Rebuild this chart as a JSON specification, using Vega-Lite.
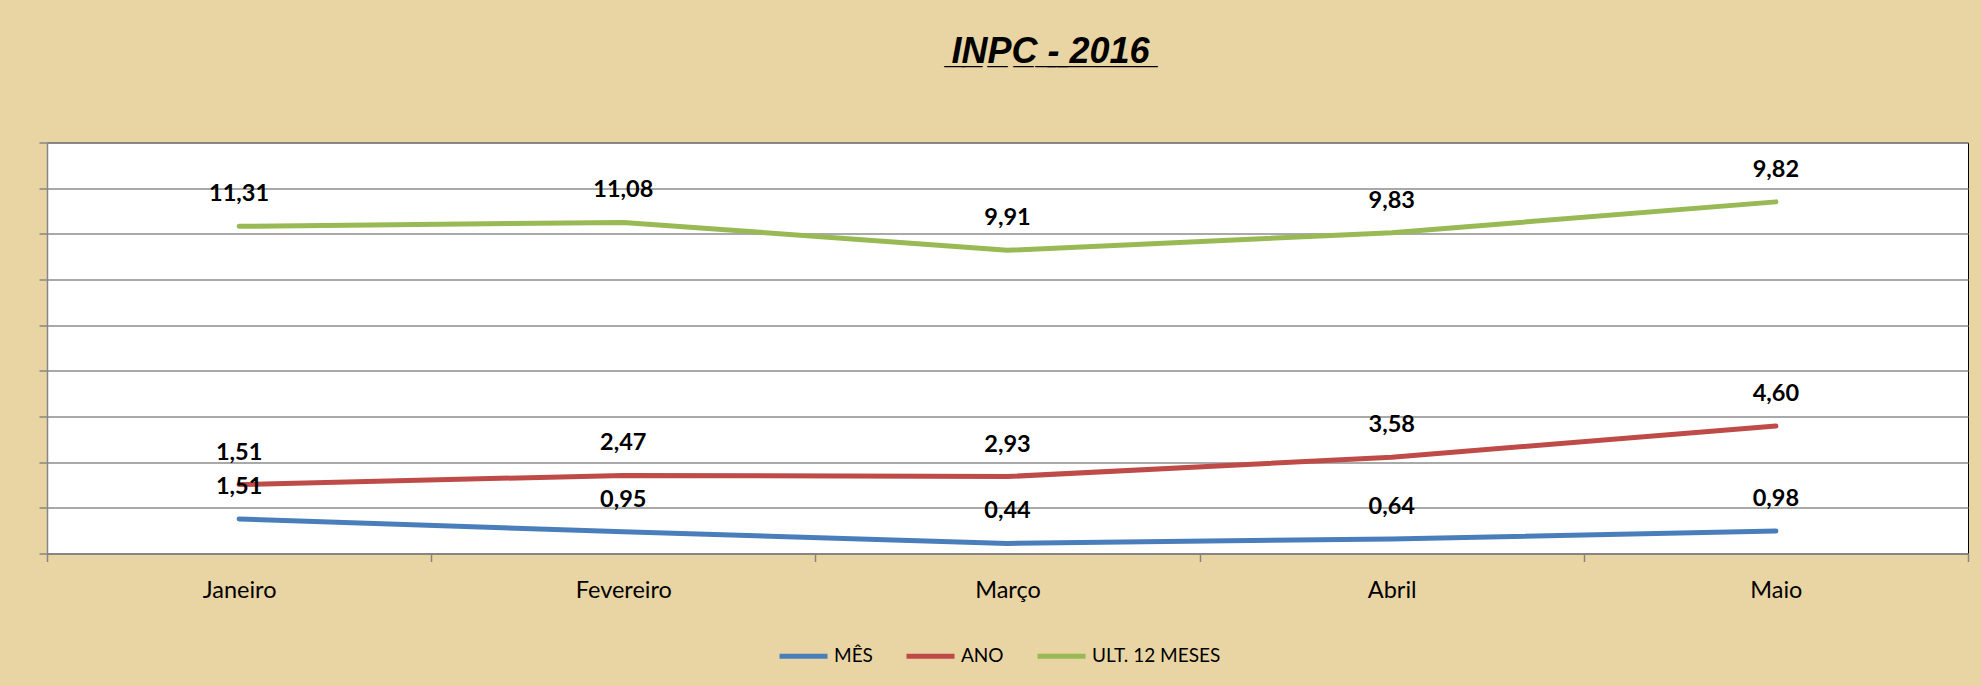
{
  "$schema": "https://vega.github.io/schema/vega-lite/v6.json",
  "width": 1921,
  "height": 411,
  "autosize": "none",
  "padding": {"left": 47, "top": 142.5, "right": 13, "bottom": 132.5},
  "background": "#E9D5A3",
  "title": {
    "text": "I̲N̲P̲C̲ ̲-̲ ̲2̲0̲1̲6̲",
    "anchor": "middle",
    "frame": "group",
    "font": "Liberation Sans",
    "fontSize": 36,
    "fontWeight": "bold",
    "fontStyle": "italic",
    "color": "#000000",
    "baseline": "alphabetic",
    "offset": 43,
    "dx": 43
  },
  "config": {
    "view": {"stroke": "#000000", "strokeWidth": 1, "fill": "#FFFFFF"},
    "locale": {"number": {"decimal": ",", "thousands": ".", "grouping": [3], "currency": ["R$ ", ""]}}
  },
  "data": {
    "values": [
      {"mes": "Janeiro", "serie": "MÊS", "ordem": 1, "valor": 1.51},
      {"mes": "Fevereiro", "serie": "MÊS", "ordem": 1, "valor": 0.95},
      {"mes": "Março", "serie": "MÊS", "ordem": 1, "valor": 0.44},
      {"mes": "Abril", "serie": "MÊS", "ordem": 1, "valor": 0.64},
      {"mes": "Maio", "serie": "MÊS", "ordem": 1, "valor": 0.98},
      {"mes": "Janeiro", "serie": "ANO", "ordem": 2, "valor": 1.51},
      {"mes": "Fevereiro", "serie": "ANO", "ordem": 2, "valor": 2.47},
      {"mes": "Março", "serie": "ANO", "ordem": 2, "valor": 2.93},
      {"mes": "Abril", "serie": "ANO", "ordem": 2, "valor": 3.58},
      {"mes": "Maio", "serie": "ANO", "ordem": 2, "valor": 4.60},
      {"mes": "Janeiro", "serie": "ULT. 12 MESES", "ordem": 3, "valor": 11.31},
      {"mes": "Fevereiro", "serie": "ULT. 12 MESES", "ordem": 3, "valor": 11.08},
      {"mes": "Março", "serie": "ULT. 12 MESES", "ordem": 3, "valor": 9.91},
      {"mes": "Abril", "serie": "ULT. 12 MESES", "ordem": 3, "valor": 9.83},
      {"mes": "Maio", "serie": "ULT. 12 MESES", "ordem": 3, "valor": 9.82}
    ]
  },
  "transform": [
    {"stack": "valor", "groupby": ["mes"], "sort": [{"field": "ordem", "order": "ascending"}], "as": ["y0", "y1"]}
  ],
  "encoding": {
    "x": {
      "field": "mes",
      "type": "nominal",
      "sort": ["Janeiro", "Fevereiro", "Março", "Abril", "Maio"],
      "scale": {"type": "band", "paddingInner": 0, "paddingOuter": 0},
      "axis": {
        "title": null,
        "tickBand": "extent",
        "labelAngle": 0,
        "labelFont": "Lato",
        "labelFontSize": 23.5,
        "labelColor": "#000000",
        "labelPadding": 17,
        "tickSize": 8,
        "tickColor": "#868686",
        "tickWidth": 1.5,
        "domainColor": "#868686",
        "domainWidth": 1.5,
        "grid": false
      }
    },
    "y": {
      "field": "y1",
      "type": "quantitative",
      "scale": {"domain": [0, 18], "nice": false, "zero": true},
      "axis": {
        "title": null,
        "values": [0, 2, 4, 6, 8, 10, 12, 14, 16, 18],
        "labels": false,
        "ticks": true,
        "tickSize": 8,
        "tickColor": "#868686",
        "tickWidth": 1.5,
        "domainColor": "#868686",
        "domainWidth": 1.5,
        "grid": true,
        "gridColor": "#8C8C8C",
        "gridWidth": 1.5
      }
    }
  },
  "layer": [
    {
      "mark": {"type": "line", "strokeWidth": 5, "strokeCap": "round", "strokeJoin": "round"},
      "encoding": {
        "color": {
          "field": "serie",
          "type": "nominal",
          "scale": {"domain": ["MÊS", "ANO", "ULT. 12 MESES"], "range": ["#4A7EBB", "#BE4B48", "#98B954"]},
          "legend": {
            "title": null,
            "orient": "none",
            "direction": "horizontal",
            "legendX": 730,
            "legendY": 487,
            "symbolType": "stroke",
            "symbolSize": 2304,
            "symbolStrokeWidth": 5,
            "labelFont": "Lato",
            "labelFontSize": 19,
            "labelColor": "#000000",
            "labelOffset": 4,
            "columnPadding": 23
          }
        }
      }
    },
    {
      "mark": {"type": "text", "font": "Lato", "fontSize": 23.5, "fontWeight": "bold", "baseline": "alphabetic", "dy": -25, "color": "#000000"},
      "encoding": {
        "text": {"field": "valor", "type": "quantitative", "format": ".2f"},
        "detail": {"field": "serie", "type": "nominal"}
      }
    }
  ]
}
